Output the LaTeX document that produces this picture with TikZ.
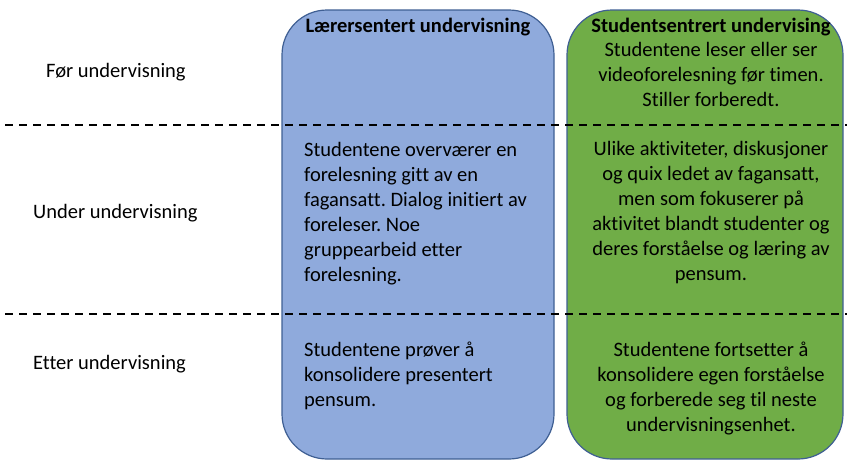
\documentclass[tikz,border=0pt]{standalone}
\usepackage{fontspec}
\setmainfont{Carlito}[Ligatures=NoCommon]
\frenchspacing
\definecolor{boxblue}{HTML}{8FAADC}
\definecolor{boxgreen}{HTML}{70AD47}
\definecolor{edgeblue}{HTML}{3F5F93}
\begin{document}
\begin{tikzpicture}[x=1pt,y=-1pt,
  txt/.style={inner sep=0pt, font=\fontsize{20.5}{25}\selectfont},
  ttl/.style={inner sep=0pt, font=\fontsize{20.5}{25}\selectfont\bfseries},
  colbox/.style={draw=edgeblue, line width=1.2pt, rounded corners=45pt},
  sepline/.style={dashed, line width=1.4pt, dash pattern=on 8pt off 6pt}]
\useasboundingbox (0,0) rectangle (847,461);
\path[colbox, fill=boxblue] (282,10) rectangle (554,459);
\path[colbox, fill=boxgreen] (567,10) rectangle (843,459);
\coordinate (l1a) at (5,125);
\coordinate (l1b) at (847,125);
\coordinate (l2a) at (5,314);
\coordinate (l2b) at (847,314);
\draw[sepline] (l1a) -- (l1b);
\draw[sepline] (l2a) -- (l2b);
% left labels
\node[txt, anchor=base west] (before) at (46,77) {Før undervisning};
\node[txt, anchor=base west] (during) at (33,218) {Under undervisning};
\node[txt, anchor=base west] (after) at (33,369) {Etter undervisning};
% blue column
\node[ttl, anchor=base] (ttlA) at (418,32) {Lærersentert undervisning};
\node[txt, anchor=north west, align=left] (midA) at (304,142) {Studentene overværer en\\forelesning gitt av en\\fagansatt. Dialog initiert av\\foreleser. Noe\\gruppearbeid etter\\forelesning.};
\node[txt, anchor=north west, align=left] (endA) at (304,342) {Studentene prøver å\\konsolidere presentert\\pensum.};
% green column
\node[ttl, anchor=base] (ttlB) at (711,32) {Studentsentrert undervising};
\node[txt, anchor=north, align=center] (topB) at (711,42) {Studentene leser eller ser\\videoforelesning før timen.\\Stiller forberedt.};
\node[txt, anchor=north, align=center] (midB) at (711,141) {Ulike aktiviteter, diskusjoner\\og quix ledet av fagansatt,\\men som fokuserer på\\aktivitet blandt studenter og\\deres forståelse og læring av\\pensum.};
\node[txt, anchor=north, align=center] (endB) at (711,342) {Studentene fortsetter å\\konsolidere egen forståelse\\og forberede seg til neste\\undervisningsenhet.};
\end{tikzpicture}
\end{document}
